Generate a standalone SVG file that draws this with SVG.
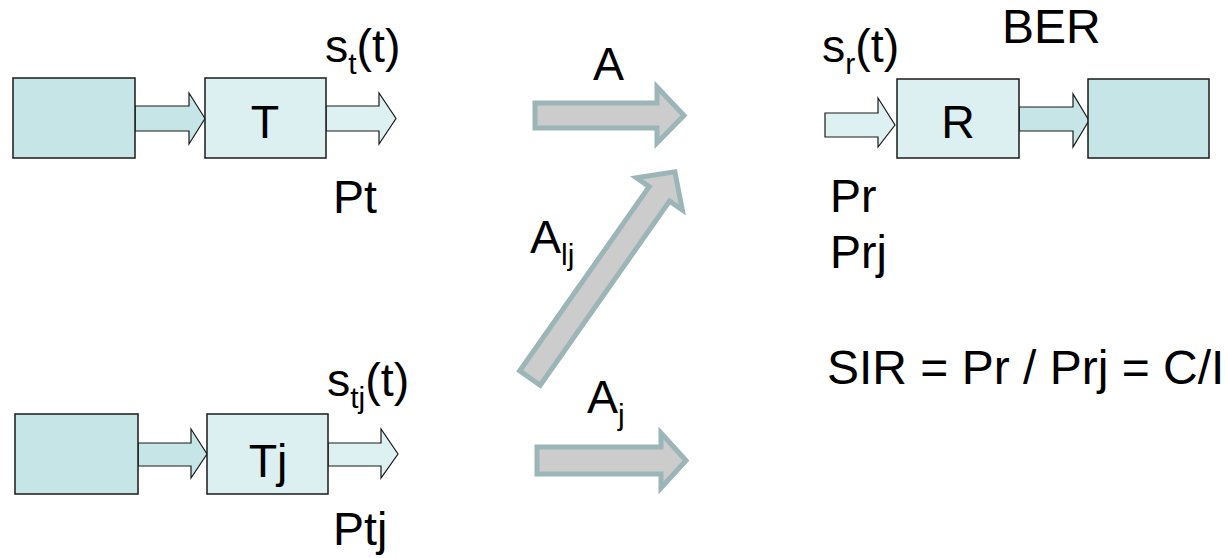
<svg xmlns="http://www.w3.org/2000/svg" width="1228" height="558" viewBox="0 0 1228 558">
<style>
text{font-family:"Liberation Sans",Arial,sans-serif;font-size:46.5px;fill:#000}
.sub{font-size:30px}
.big{font-size:48px}
.src{fill:#c5e5e7;stroke:#1a1a1a;stroke-width:1.5}
.blk{fill:#dcf0f2;stroke:#1a1a1a;stroke-width:1.5}
.a1{fill:#c5e5e7;stroke:#1a1a1a;stroke-width:1.2}
.a2{fill:#ddf0f2;stroke:#1a1a1a;stroke-width:1.2}
.g{fill:#cccccc;stroke:#9cb5b8;stroke-width:5;stroke-linejoin:miter}
</style>
<rect width="1228" height="558" fill="#fff"/>
<g id="connectors">
<path class="a1" d="M135,106 H189 V93 L205,118.5 L189,144 V131 H135 Z"/>
<path class="a2" d="M326,106 H379 V93 L396,118.5 L379,144 V131 H326 Z"/>
<path class="a1" d="M138,443 H191 V429 L207,454 L191,478 V466 H138 Z"/>
<path class="a2" d="M328,443 H381 V429 L398,454 L381,478 V466 H328 Z"/>
<path class="a2" d="M825,113 H878 V98 L895,125 L878,147 V137 H825 Z"/>
<path class="a1" d="M1019,107 H1073 V94 L1089,120.5 L1073,147 V131 H1019 Z"/>
<path class="g" d="M535,103 H657 V87 L684,115.5 L657,143 V128 H535 Z"/>
<path class="g" d="M537,447 H661 V433 L686,460.5 L661,488 V474 H537 Z"/>
<path class="g" transform="translate(530,378) rotate(-54.9)" d="M0,-12.5 H225 V-28 L252,0 L225,28 V12.5 H0 Z"/>
</g>
<g id="source1"><rect class="src" x="13" y="78" width="122" height="80"/></g>
<g id="T"><rect class="blk" x="205" y="78" width="121" height="80"/><text x="265" y="138" text-anchor="middle">T</text></g>
<g id="source2"><rect class="src" x="15" y="414" width="123" height="80"/></g>
<g id="Tj"><rect class="blk" x="207" y="414" width="121" height="80"/><text x="268" y="477" text-anchor="middle">Tj</text></g>
<g id="R"><rect class="blk" x="897" y="79" width="122" height="79"/><text x="958" y="138" text-anchor="middle">R</text></g>
<g id="sink"><rect class="src" x="1088" y="79" width="121" height="79"/></g>
<g id="labels">
<text x="325" y="62">s<tspan class="sub" dy="12">t</tspan><tspan dy="-12">(t)</tspan></text>
<text x="333" y="213">Pt</text>
<text x="327" y="396">s<tspan class="sub" dy="12">tj</tspan><tspan dy="-12">(t)</tspan></text>
<text x="333" y="545">Ptj</text>
<text x="593" y="80">A</text>
<text x="530" y="253">A<tspan class="sub" dy="12">lj</tspan></text>
<text x="587" y="413">A<tspan class="sub" dy="12">j</tspan></text>
<text x="822" y="62">s<tspan class="sub" dy="12">r</tspan><tspan dy="-12">(t)</tspan></text>
<text class="big" x="1002" y="43">BER</text>
<text x="830" y="212">Pr</text>
<text x="830" y="268">Prj</text>
<text class="big" x="827" y="384">SIR = Pr / Prj = C/I</text>
</g>
</svg>
